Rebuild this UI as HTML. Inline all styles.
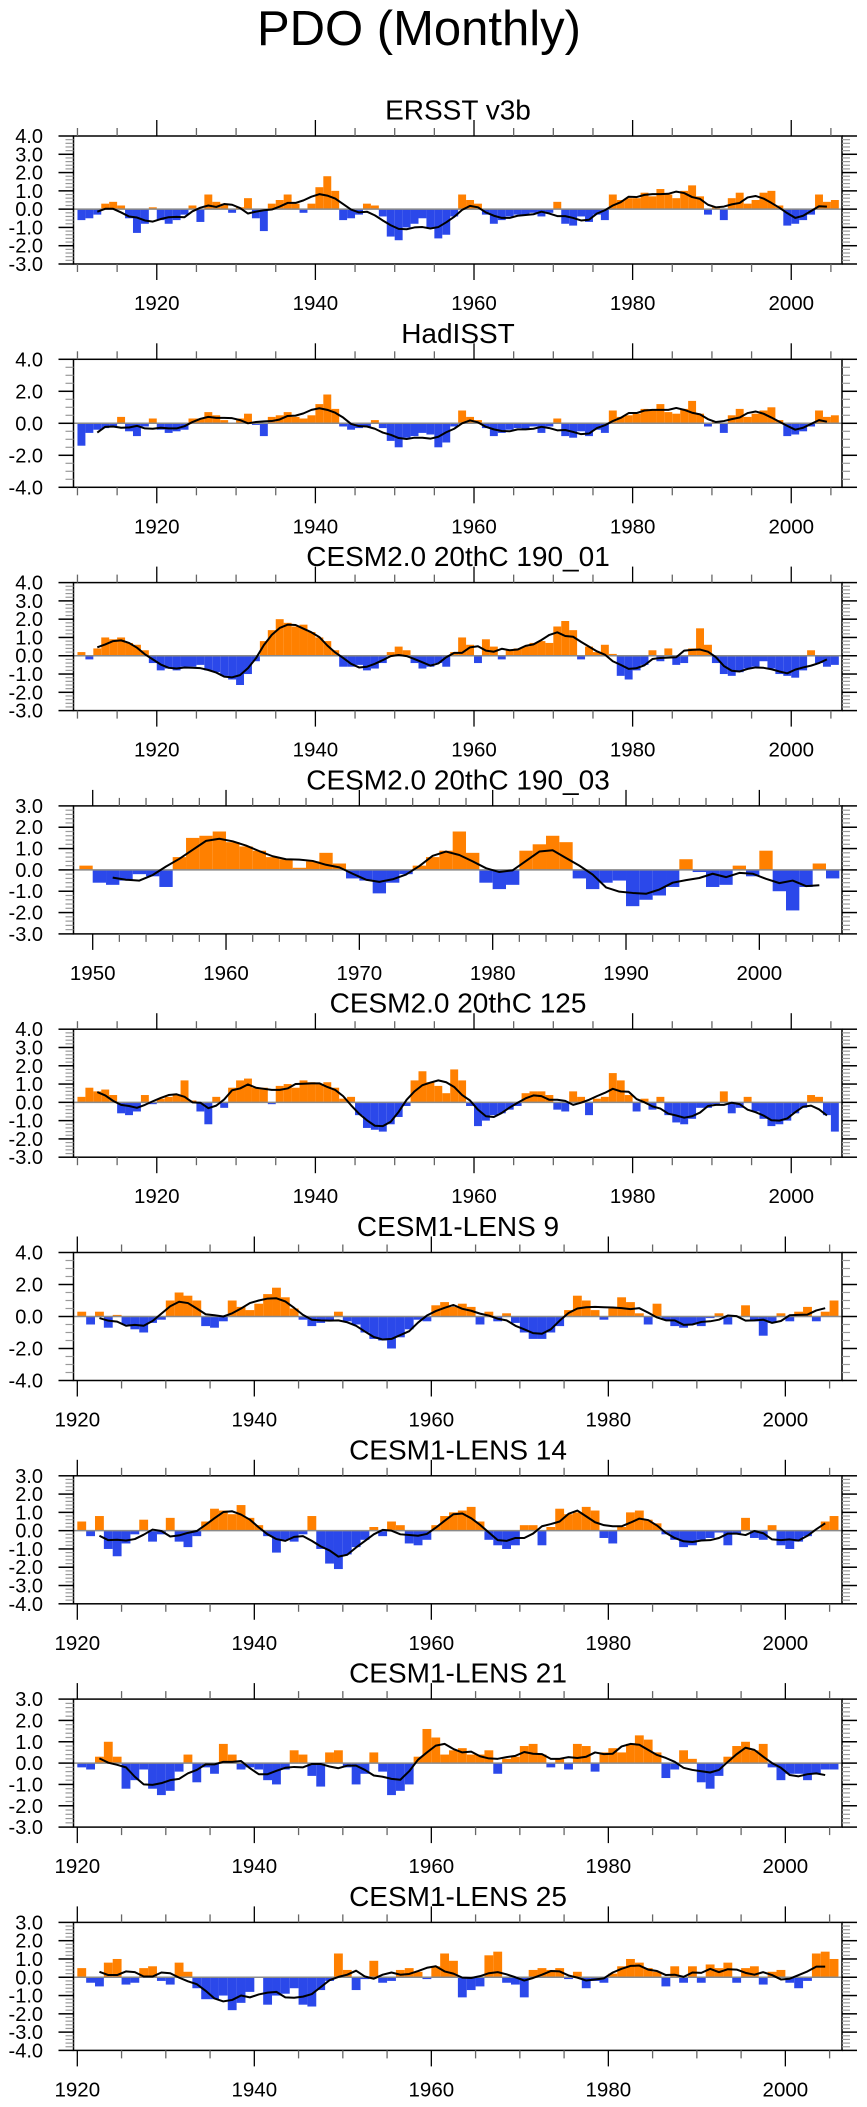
<!DOCTYPE html>
<html><head><meta charset="utf-8"><title>PDO (Monthly)</title>
<style>
html,body{margin:0;padding:0;background:#fff;}
svg{display:block;font-family:"Liberation Sans",Arial,sans-serif;}
</style></head>
<body>
<svg id="chart" width="867" height="2107" viewBox="0 0 867 2107" xmlns="http://www.w3.org/2000/svg">
<text x="419" y="45" font-size="49" text-anchor="middle" fill="#000">PDO (Monthly)</text>
</svg>
<script>
// ---- data (annual estimates) ----
const titles = ["ERSST v3b","HadISST","CESM2.0 20thC 190_01","CESM2.0 20thC 190_03","CESM2.0 20thC 125","CESM1-LENS 9","CESM1-LENS 14","CESM1-LENS 21","CESM1-LENS 25"];
const startYears = [1910,1910,1910,1949,1910,1920,1920,1920,1920];
const yRanges = [[-3,4],[-4,4],[-3,4],[-3,3],[-3,4],[-4,4],[-4,3],[-3,3],[-4,3]];
const yLabelSteps = [1,2,1,1,1,2,1,1,1];
const ersst = [-0.6,-0.5,-0.3,0.3,0.4,0.2,-0.5,-1.3,-0.8,0.1,-0.6,-0.8,-0.6,-0.3,0.2,-0.7,0.8,0.4,0.3,-0.2,0.1,0.6,-0.5,-1.2,0.3,0.5,0.8,0.3,-0.2,0.3,1.2,1.8,1.0,-0.6,-0.5,-0.3,0.3,0.2,-0.4,-1.5,-1.7,-1.0,-0.8,-0.5,-1.0,-1.6,-1.4,-0.4,0.8,0.5,0.3,-0.3,-0.8,-0.6,-0.4,-0.3,-0.3,-0.2,-0.4,-0.2,0.4,-0.8,-0.9,-0.4,-0.7,-0.3,-0.6,0.8,0.5,0.6,0.6,0.9,0.7,1.1,0.8,0.6,1.0,1.3,0.7,-0.3,0.1,-0.6,0.6,0.9,0.3,0.5,0.9,1.0,0.2,-0.9,-0.8,-0.6,-0.3,0.8,0.4,0.5,-0.7];
const hadisst = [-1.4,-0.6,-0.4,-0.3,-0.2,0.4,-0.5,-0.8,-0.2,0.3,-0.4,-0.6,-0.5,-0.4,0.3,0.3,0.7,0.5,0.2,0.0,0.3,0.6,-0.1,-0.8,0.4,0.5,0.7,0.4,0.3,0.5,1.2,1.8,0.9,-0.2,-0.4,-0.3,-0.2,0.2,-0.3,-1.1,-1.5,-0.9,-0.8,-0.6,-0.7,-1.5,-1.2,-0.2,0.8,0.4,0.2,-0.3,-0.8,-0.6,-0.4,-0.3,-0.4,-0.2,-0.6,-0.2,0.3,-0.8,-0.9,-0.5,-0.8,-0.4,-0.6,0.8,0.4,0.5,0.6,0.9,0.8,1.2,0.7,0.6,0.9,1.4,0.6,-0.2,0.1,-0.6,0.5,0.9,0.4,0.6,0.8,1.0,0.2,-0.8,-0.7,-0.5,-0.2,0.8,0.4,0.5,-1.0];
const cesm190_01 = [0.2,-0.2,0.4,1.0,0.9,1.0,0.7,0.6,0.3,-0.4,-0.8,-0.7,-0.8,-0.6,-0.6,-0.5,-0.8,-0.9,-1.1,-1.3,-1.6,-1.0,-0.3,0.8,1.4,2.0,1.8,1.6,1.7,1.3,1.0,0.8,0.3,-0.6,-0.6,-0.5,-0.8,-0.7,-0.4,0.2,0.5,0.3,-0.4,-0.7,-0.6,-0.4,-0.6,0.2,1.0,0.6,-0.4,0.9,0.5,-0.2,0.3,0.4,0.5,0.7,0.8,0.7,1.6,1.9,1.4,-0.2,0.5,0.2,0.6,0.1,-1.1,-1.3,-0.8,-0.5,0.3,-0.3,0.4,-0.5,-0.4,0.4,1.5,0.6,-0.4,-1.0,-1.1,-0.9,-0.7,-0.6,-0.3,-0.7,-1.0,-1.1,-1.2,-0.8,0.3,-0.4,-0.6,-0.5,0.2];
const cesm190_03 = [0.2,-0.6,-0.7,-0.5,-0.2,-0.3,-0.8,0.6,1.5,1.6,1.8,1.3,1.1,0.9,0.6,0.5,0.1,0.4,0.8,0.3,-0.4,-0.5,-1.1,-0.6,-0.2,0.2,0.6,0.9,1.8,0.8,-0.6,-0.9,-0.7,0.9,1.2,1.6,1.3,-0.4,-0.9,-0.6,-0.5,-1.7,-1.4,-1.2,-0.8,0.5,-0.1,-0.8,-0.7,0.2,-0.3,0.9,-1.0,-1.9,-0.8,0.3,-0.4,-0.8];
const cesm125 = [0.3,0.8,0.6,0.7,0.4,-0.6,-0.7,-0.5,0.4,-0.1,0.2,0.3,0.4,1.2,0.1,-0.5,-1.2,0.3,-0.3,0.8,1.2,1.3,0.8,0.8,-0.1,0.9,1.0,0.8,1.2,1.1,1.0,1.1,0.8,0.2,0.3,-0.7,-1.4,-1.5,-1.6,-1.2,-0.8,-0.2,1.2,1.7,1.1,0.9,0.5,1.8,1.2,-0.2,-1.3,-1.0,-0.7,-0.6,-0.4,-0.2,0.5,0.6,0.6,0.4,-0.4,-0.5,0.6,0.3,-0.7,0.2,0.3,1.6,1.2,0.4,-0.5,0.2,-0.4,0.3,-0.7,-1.1,-1.2,-0.9,-0.3,-0.3,-0.1,0.6,-0.6,-0.3,0.3,-0.5,-0.9,-1.3,-1.2,-1.0,-0.6,-0.3,0.4,0.3,-0.7,-1.6,-2.0];
const lens9 = [0.3,-0.5,0.3,-0.7,0.1,-0.5,-0.8,-1.0,-0.4,-0.2,1.0,1.5,1.3,1.0,-0.6,-0.7,-0.3,1.0,0.6,0.4,0.8,1.4,1.8,1.2,0.5,-0.2,-0.6,-0.4,-0.3,0.3,-0.3,-0.5,-1.0,-1.4,-1.5,-2.0,-1.3,-0.8,-0.2,-0.3,0.7,0.9,0.6,0.8,0.6,-0.5,0.3,-0.3,0.2,-0.4,-1.0,-1.4,-1.4,-1.0,-0.6,0.4,1.3,1.0,0.4,-0.2,0.5,1.2,0.9,0.2,-0.5,0.8,-0.2,-0.6,-0.7,-0.5,-0.6,-0.1,0.2,-0.5,0.0,0.7,-0.3,-1.2,-0.4,0.2,-0.3,0.3,0.6,-0.3,0.3,1.0,1.0];
const lens14 = [0.5,-0.3,0.8,-1.0,-1.4,-0.7,-0.2,0.6,-0.6,-0.2,0.7,-0.6,-0.9,-0.3,0.5,1.2,1.1,0.9,1.4,0.7,0.3,-0.3,-1.2,-0.5,-0.6,-0.2,0.8,-1.0,-1.8,-2.1,-1.3,-0.9,-0.5,0.2,-0.3,0.5,0.3,-0.7,-0.8,-0.5,0.3,0.8,1.0,1.1,1.3,0.5,-0.5,-0.8,-1.0,-0.8,0.3,0.3,-0.8,0.2,1.2,0.9,1.0,1.3,1.1,-0.4,-0.7,0.2,1.0,1.1,0.6,0.4,-0.2,-0.5,-0.9,-0.8,-0.5,-0.4,-0.1,-0.8,-0.2,0.7,-0.4,-0.5,0.3,-0.8,-1.0,-0.6,-0.3,0.0,0.5,0.8,1.0];
const lens21 = [-0.2,-0.3,0.3,1.0,0.3,-1.2,-0.8,-0.3,-1.2,-1.5,-1.3,-0.4,0.4,-0.9,-0.2,-0.5,0.9,0.4,-0.3,-0.2,-0.3,-0.8,-1.0,-0.3,0.6,0.4,-0.6,-1.1,0.5,0.6,-0.2,-1.0,-0.5,0.5,-0.4,-1.5,-1.3,-1.0,0.3,1.6,1.2,0.4,0.6,0.7,0.4,0.4,0.6,-0.5,0.2,0.3,0.8,0.9,0.4,-0.2,0.2,-0.3,0.9,0.8,-0.4,0.5,0.7,0.5,0.9,1.3,1.1,0.5,-0.7,-0.3,0.6,0.2,-0.9,-1.2,-0.6,0.3,0.8,1.0,0.6,0.9,-0.2,-0.8,-0.5,-0.5,-0.8,-0.5,-0.3,-0.3,-0.9];
const lens25 = [0.5,-0.3,-0.5,0.8,1.0,-0.4,-0.3,0.5,0.6,-0.2,-0.4,0.8,0.3,-0.6,-1.2,-1.2,-1.0,-1.8,-1.4,-0.8,0.0,-1.5,-1.0,-0.9,-0.6,-1.5,-1.6,-0.7,-0.2,1.3,0.4,-0.7,-0.1,0.9,-0.3,-0.2,0.4,0.5,0.3,-0.1,0.6,1.3,0.9,-1.1,-0.7,-0.5,1.2,1.4,-0.3,-0.4,-1.1,0.4,0.5,0.4,0.5,-0.1,0.3,-0.6,-0.2,-0.3,0.2,0.6,1.0,0.8,0.5,0.3,-0.5,0.6,-0.3,0.6,-0.3,0.7,0.5,0.8,-0.3,0.5,0.6,-0.4,0.3,0.4,-0.3,-0.6,-0.2,1.3,1.4,1.0,-0.6];
const series = [ersst,hadisst,cesm190_01,cesm190_03,cesm125,lens9,lens14,lens21,lens25];

// ---- layout (positions/styles) ----
const NS = "http://www.w3.org/2000/svg";
const svg = document.getElementById("chart");
const PL = 73.5, PR = 842, PH = 128, TOP0 = 136, PITCH = 223.3;
const xDomains = [[1909.5,2006.4],[1909.5,2006.4],[1909.5,2006.4],[1948.56,2006.2],[1909.5,2006.4],[1919.57,2006.4],[1919.57,2006.4],[1919.57,2006.4],[1919.57,2006.4]];
const dataEnd = 2006;
const ORANGE = "#ff8000", BLUE = "#2b48ea";

function mk(tag, attrs, parent){
  const e = document.createElementNS(NS, tag);
  for (const k in attrs) e.setAttribute(k, attrs[k]);
  (parent||svg).appendChild(e);
  return e;
}
function runMean(arr, w){
  const h = Math.floor(w/2), out = [];
  for (let i=h;i<arr.length-h;i++){
    let s=0; for (let j=i-h;j<=i+h;j++) s+=arr[j];
    out.push({i:i, v:s/w});
  }
  return out;
}

for (let p=0;p<9;p++){
  const top = TOP0 + p*PITCH, bot = top + PH;
  const [ymin,ymax] = yRanges[p];
  const [x0,x1] = xDomains[p];
  const X = yr => PL + (yr-x0)/(x1-x0)*(PR-PL);
  const Y = v => top + (ymax-v)/(ymax-ymin)*PH;
  const g = mk("g", {});
  
  

  const t = mk("text", {x:458, y:top-16.5, "font-size":28, "text-anchor":"middle", fill:"#000"}, g);
  t.textContent = titles[p];
  
  

  // bars
  const data = series[p], sy = startYears[p];
  const bars = mk("g", {}, g);
  
  
  for (let i=0;i<data.length;i++){
    const yr = sy+i, v = data[i];
    const xa = X(yr), xb = X(Math.min(yr+1, dataEnd));
    if (xb <= xa) continue;
    const y0 = Y(0), yv = Y(v);
    const r = mk("rect", {x:xa.toFixed(2), y:Math.min(y0,yv).toFixed(2), width:(xb-xa).toFixed(2), height:Math.abs(yv-y0).toFixed(2), fill: v>=0?ORANGE:BLUE}, bars);
    
    
  }
  // zero line
  const z = mk("line", {x1:PL, x2:PR, y1:Y(0), y2:Y(0), stroke:"#8a8a8a", "stroke-width":1.5}, g);
  
  
  // smoothed line
  const rm = runMean(data, 5);
  const d = rm.map((o,k)=>(k?"L":"M")+X(sy+o.i+0.5).toFixed(2)+","+Y(o.v).toFixed(2)).join("");
  const sl = mk("path", {d:d, fill:"none", stroke:"#000", "stroke-width":2, "stroke-linejoin":"round"}, g);
  
  
  // frame
  const fr = mk("rect", {x:PL, y:top, width:PR-PL, height:PH, fill:"none", stroke:"#000", "stroke-width":1.5}, g);
  
  

  // y ticks
  const ystep = yLabelSteps[p], yminor = ystep===2?0.5:0.2;
  const nMinor = Math.round((ymax-ymin)/yminor);
  for (let k=0;k<=nMinor;k++){
    const v = ymin + k*yminor, yy = Y(v);
    const isMaj = Math.abs(v/ystep - Math.round(v/ystep))<1e-6;
    const len = isMaj?15:8, col = isMaj?"#000":"#999";
    mk("line",{x1:PL-len,x2:PL,y1:yy,y2:yy,stroke:col,"stroke-width":isMaj?1.5:1.2},g);
    mk("line",{x1:PR,x2:PR+len,y1:yy,y2:yy,stroke:col,"stroke-width":isMaj?1.5:1.2},g);
    if (isMaj){
      const lb = mk("text",{x:43,y:yy+7,"font-size":20,"text-anchor":"end",fill:"#000"},g);
      lb.textContent = v.toFixed(1);
      
      
    }
  }
  // x ticks
  const isP4 = p===3;
  const minorStep = isP4?2:5, majStep = isP4?10:20;
  const firstTick = isP4?1950:(p>=5?1920:1910);
  for (let yr=firstTick; yr<=x1; yr+=minorStep){
    const xx = X(yr);
    if (xx > PR+0.5) break;
    const isMaj = yr % majStep === 0;
    const len = isMaj?16:8;
    mk("line",{x1:xx,x2:xx,y1:top-len,y2:top,stroke:isMaj?"#000":"#666","stroke-width":1.3},g);
    mk("line",{x1:xx,x2:xx,y1:bot,y2:bot+len,stroke:isMaj?"#000":"#666","stroke-width":1.3},g);
    if (isMaj){
      const lb = mk("text",{x:xx,y:bot+46,"font-size":20.5,"text-anchor":"middle",fill:"#000"},g);
      lb.textContent = yr;
      
      
    }
  }
}
</script>
</body></html>
